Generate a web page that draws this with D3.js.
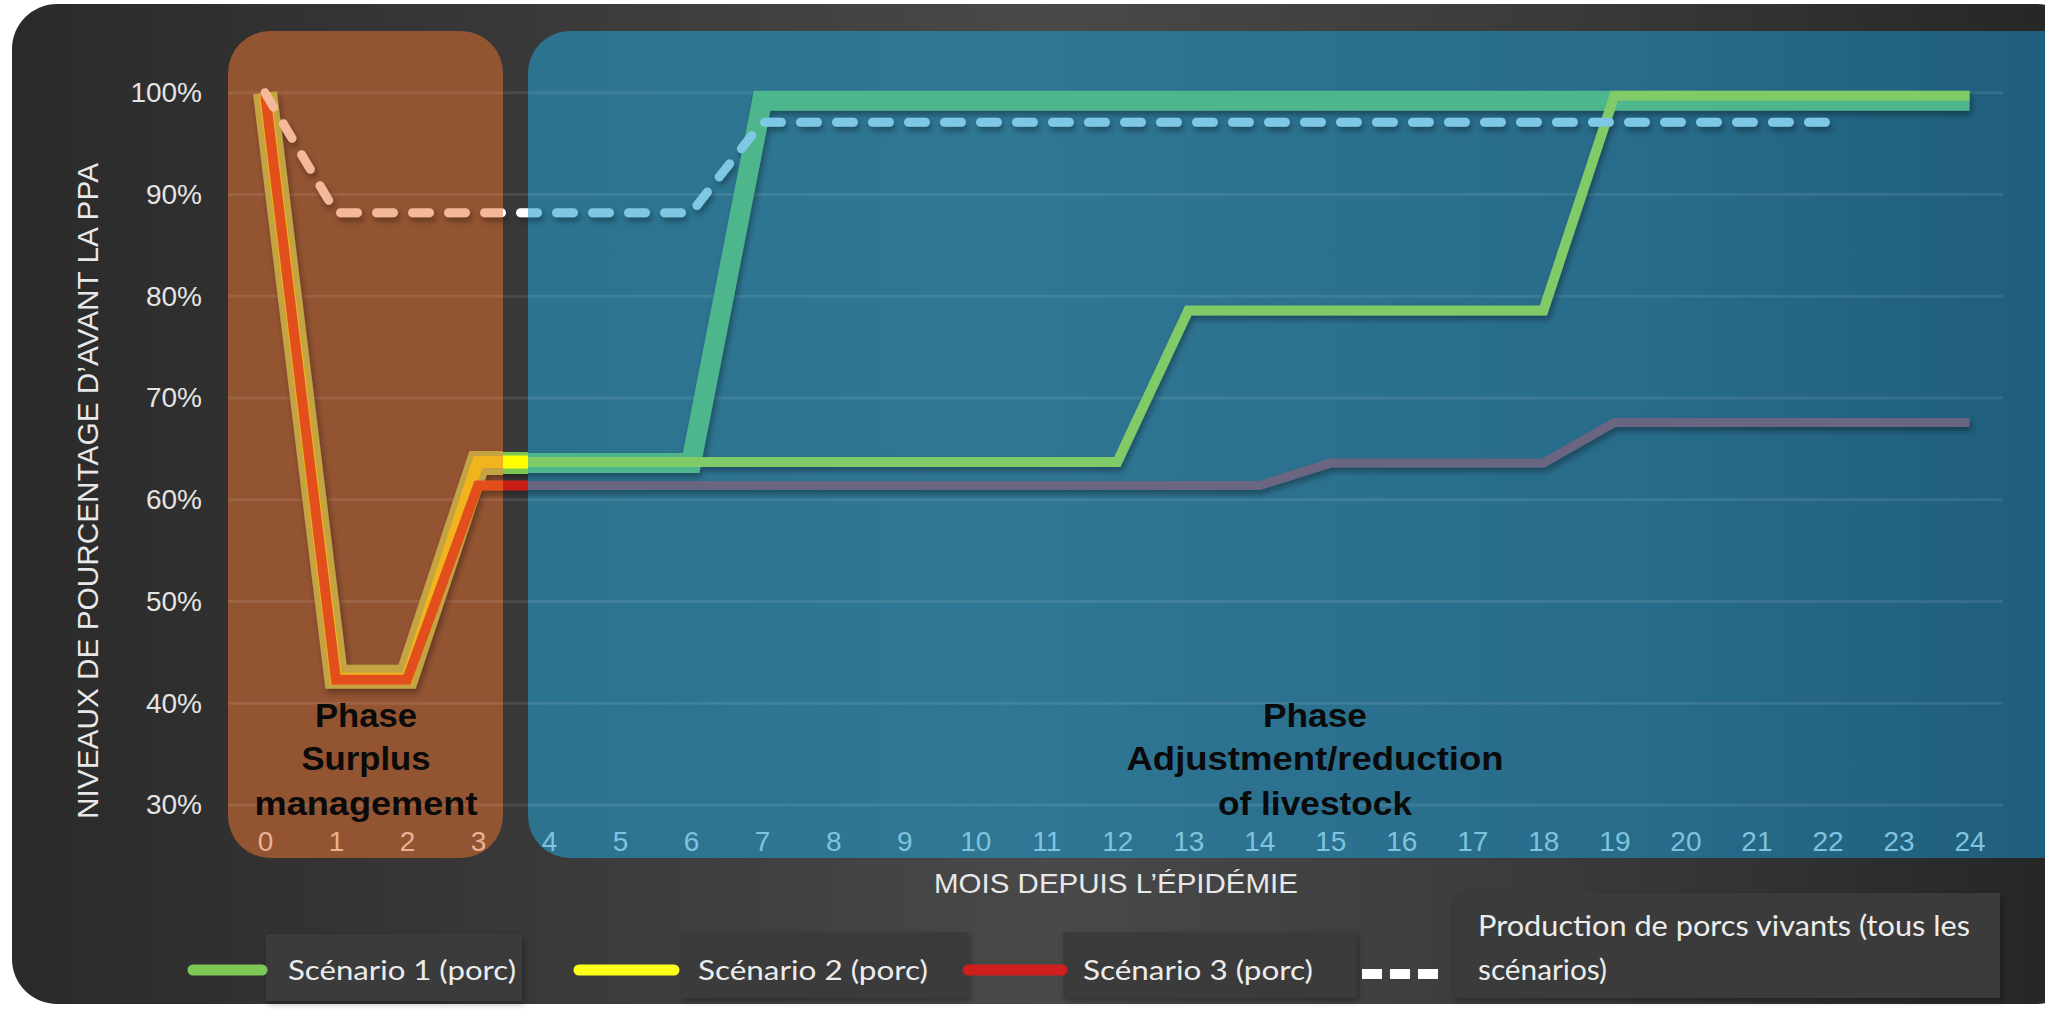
<!DOCTYPE html>
<html>
<head>
<meta charset="utf-8">
<script src="https://cdn.jsdelivr.net/npm/d3@7"></script>
<style>
  html, body { margin: 0; padding: 0; background: #ffffff; }
  svg { display: block; }
</style>
</head>
<body>
<svg id="chart" width="2045" height="1010"></svg>
<script>
// Months since the outbreak
const months = [0, 1, 2, 3, 4, 5, 6, 7, 8, 9, 10, 11, 12, 13, 14, 15, 16, 17, 18, 19, 20, 21, 22, 23, 24];

// Pork supply as % of pre-ASF level, one value per month
const scenario1 = [100, 42.6, 42.6, 63.6, 63.6, 63.6, 63.6, 99.2, 99.2, 99.2, 99.2, 99.2, 99.2,
                   99.2, 99.2, 99.2, 99.2, 99.2, 99.2, 99.2, 99.2, 99.2, 99.2, 99.2, 99.2];
const scenario2 = [100, 42.4, 42.4, 63.7, 63.7, 63.7, 63.7, 63.7, 63.7, 63.7, 63.7, 63.7, 63.7,
                   78.6, 78.6, 78.6, 78.6, 78.6, 78.6, 99.7, 99.7, 99.7, 99.7, 99.7, 99.7];
const scenario3 = [100, 42.3, 42.3, 61.4, 61.4, 61.4, 61.4, 61.4, 61.4, 61.4, 61.4, 61.4, 61.4,
                   61.4, 61.4, 63.6, 63.6, 63.6, 63.6, 67.6, 67.6, 67.6, 67.6, 67.6, 67.6];
// Live hog production (all scenarios), months 0–22
const liveHogs = [100, 88.2, 88.2, 88.2, 88.2, 88.2, 88.2, 97.1, 97.1, 97.1, 97.1, 97.1,
                  97.1, 97.1, 97.1, 97.1, 97.1, 97.1, 97.1, 97.1, 97.1, 97.1, 97.1];

const yTicks = [30, 40, 50, 60, 70, 80, 90, 100];
const seriesNames = ["Scénario 1 (porc)", "Scénario 2 (porc)", "Scénario 3 (porc)"];
const hogLegendLines = ["Production de porcs vivants (tous les", "scénarios)"];
const phaseSurplus = ["Phase", "Surplus", "management"];
const phaseAdjust = ["Phase", "Adjustment/reduction", "of livestock"];
const xTitle = "MOIS DEPUIS L\u2019ÉPIDÉMIE";
const yTitle = "NIVEAUX DE POURCENTAGE D\u2019AVANT LA PPA";

const svg = d3.select("#chart");
const defs = svg.append("defs");

const x = d3.scaleLinear().domain([0, 24]).range([265, 1969.5]);
const y = d3.scaleLinear().domain([30, 100]).range([805, 92.7]);

// ---- gradients & filters ----
const cardGrad = defs.append("linearGradient").attr("id", "cardGrad").attr("x1", 0).attr("x2", 1).attr("y1", 0).attr("y2", 0);
[[0, "#2a2a2a"], [0.25, "#393939"], [0.5, "#494949"], [0.75, "#3a3a3a"], [1, "#252525"]]
  .forEach(([o, c]) => cardGrad.append("stop").attr("offset", o).attr("stop-color", c));

const blueGrad = defs.append("linearGradient").attr("id", "blueGrad").attr("x1", 0).attr("x2", 1).attr("y1", 0).attr("y2", 0);
[[0, "#2c7390"], [0.3, "#2f7794"], [0.7, "#286b8a"], [1, "#1d5b79"]]
  .forEach(([o, c]) => blueGrad.append("stop").attr("offset", o).attr("stop-color", c));

const shadow = defs.append("filter").attr("id", "lineShadow")
  .attr("x", "-5%").attr("y", "-5%").attr("width", "110%").attr("height", "110%");
shadow.append("feDropShadow").attr("dx", 2).attr("dy", 4).attr("stdDeviation", 3)
  .attr("flood-color", "#000").attr("flood-opacity", 0.35);

const boxShadow = defs.append("filter").attr("id", "boxShadow")
  .attr("x", "-10%").attr("y", "-20%").attr("width", "120%").attr("height", "140%");
boxShadow.append("feDropShadow").attr("dx", 2).attr("dy", 3).attr("stdDeviation", 3)
  .attr("flood-color", "#000").attr("flood-opacity", 0.3);

// ---- card ----
svg.append("rect").attr("x", 12).attr("y", 4).attr("width", 2070).attr("height", 1000)
  .attr("rx", 45).attr("fill", "url(#cardGrad)");

// ---- phase panels ----
const orangeX0 = 228, orangeX1 = 503, blueX0 = 528, panelTop = 31, panelBottom = 858;
svg.append("rect").attr("x", orangeX0).attr("y", panelTop)
  .attr("width", orangeX1 - orangeX0).attr("height", panelBottom - panelTop)
  .attr("rx", 42).attr("fill", "#935432");

defs.append("clipPath").attr("id", "cardClip").append("rect")
  .attr("x", 12).attr("y", 4).attr("width", 2070).attr("height", 1000).attr("rx", 45);
svg.append("g").attr("clip-path", "url(#cardClip)")
  .append("rect").attr("x", blueX0).attr("y", panelTop)
  .attr("width", 1600).attr("height", panelBottom - panelTop)
  .attr("rx", 42).attr("fill", "url(#blueGrad)");

// ---- gridlines ----
svg.append("g").selectAll("line").data(yTicks).join("line")
  .attr("x1", orangeX0).attr("x2", 2003)
  .attr("y1", d => y(d)).attr("y2", d => y(d))
  .attr("stroke", "#ffffff").attr("stroke-opacity", 0.09).attr("stroke-width", 3);

// ---- axes ----
const yAxis = svg.append("g").attr("transform", "translate(210,0)")
  .call(d3.axisLeft(y).tickValues(yTicks).tickSize(0).tickPadding(8).tickFormat(d => d + "%"));
yAxis.select(".domain").remove();
yAxis.selectAll("text").attr("fill", "#e4e4e4")
  .style("font-family", "'Liberation Sans', Arial, sans-serif").style("font-size", "28px");

const xAxis = svg.append("g").attr("transform", "translate(0,831)")
  .call(d3.axisBottom(x).tickValues(months).tickSize(0).tickPadding(0).tickFormat(d3.format("d")));
xAxis.select(".domain").remove();
xAxis.selectAll("text").attr("fill", d => d <= 3 ? "#e9b294" : "#7ec3df")
  .style("font-family", "'Liberation Sans', Arial, sans-serif").style("font-size", "28px");

svg.append("text").attr("x", 1116).attr("y", 893).attr("text-anchor", "middle")
  .attr("textLength", 364).attr("lengthAdjust", "spacingAndGlyphs")
  .attr("fill", "#e8e8e8").style("font-family", "'Liberation Sans', Arial, sans-serif")
  .style("font-size", "28px").text(xTitle);

svg.append("text").attr("transform", "translate(98,491) rotate(-90)").attr("text-anchor", "middle")
  .attr("textLength", 656).attr("lengthAdjust", "spacingAndGlyphs")
  .attr("fill", "#e8e8e8").style("font-family", "'Liberation Sans', Arial, sans-serif")
  .style("font-size", "30px").text(yTitle);

// ---- series lines, tinted by the panel they cross ----
const line = d3.line().x((d, i) => x(months[i])).y(d => y(d));

const regions = [
  { id: "clipOrange", x0: 0, x1: orangeX1,
    colors: ["#c4a443", "#f2b41c", "#e2501f", "#f4b89a"], widths: [24, 12, 10] },
  { id: "clipGap", x0: orangeX1, x1: blueX0,
    colors: ["#7dc855", "#ffff00", "#c81e18", "#ffffff"], widths: [22, 13, 10] },
  { id: "clipBlue", x0: blueX0, x1: 2045,
    colors: ["#4db68c", "#80cb68", "#6b6580", "#7ec8e5"], widths: [20, 10, 9] }
];

const series = [scenario1, scenario2, scenario3];

regions.forEach(r => {
  defs.append("clipPath").attr("id", r.id).append("rect")
    .attr("x", r.x0).attr("y", 0).attr("width", r.x1 - r.x0).attr("height", 1010);
  const g = svg.append("g").attr("clip-path", `url(#${r.id})`)
    .append("g").attr("filter", "url(#lineShadow)");
  series.forEach((s, k) => {
    g.append("path").attr("d", line(s)).attr("fill", "none")
      .attr("stroke", r.colors[k]).attr("stroke-width", r.widths[k])
      .attr("stroke-linejoin", "miter").attr("stroke-miterlimit", 3);
  });
  g.append("path").attr("d", line(liveHogs)).attr("fill", "none")
    .attr("stroke", r.colors[3]).attr("stroke-width", 9)
    .attr("stroke-dasharray", "17,19").attr("stroke-linecap", "round");
});

// ---- phase labels ----
const phaseFont = "'Liberation Sans', Arial, sans-serif";
const surplusLengths = [102, 129, 223];
const adjustLengths = [104, 377, 194];
const baselines = [727, 770, 815];
phaseSurplus.forEach((t, i) => {
  svg.append("text").attr("x", 366).attr("y", baselines[i]).attr("text-anchor", "middle")
    .attr("textLength", surplusLengths[i]).attr("lengthAdjust", "spacingAndGlyphs")
    .attr("fill", "#0a0a0a").style("font-family", phaseFont).style("font-weight", "bold")
    .style("font-size", "34px").text(t);
});
phaseAdjust.forEach((t, i) => {
  svg.append("text").attr("x", 1315).attr("y", baselines[i]).attr("text-anchor", "middle")
    .attr("textLength", adjustLengths[i]).attr("lengthAdjust", "spacingAndGlyphs")
    .attr("fill", "#0a0a0a").style("font-family", phaseFont).style("font-weight", "bold")
    .style("font-size", "34px").text(t);
});

// ---- legend ----
const legendFont = "Lato, 'Open Sans', sans-serif";
const legendSwatches = [
  { x0: 193, x1: 262, color: "#7dc855" },
  { x0: 579, x1: 674, color: "#ffff1a" },
  { x0: 968, x1: 1062, color: "#d01e1e" }
];
const legendBoxes = [
  { x: 266, y: 934, w: 256, h: 67, tx: 288, tw: 228 },
  { x: 681, y: 932, w: 287, h: 66, tx: 698, tw: 230 },
  { x: 1063, y: 932, w: 294, h: 66, tx: 1083, tw: 230 }
];
const lg = svg.append("g");
legendBoxes.forEach((b, i) => {
  lg.append("rect").attr("x", b.x).attr("y", b.y).attr("width", b.w).attr("height", b.h)
    .attr("fill", "#3b3b3b").attr("filter", "url(#boxShadow)");
  lg.append("line").attr("x1", legendSwatches[i].x0).attr("x2", legendSwatches[i].x1)
    .attr("y1", 970).attr("y2", 970)
    .attr("stroke", legendSwatches[i].color).attr("stroke-width", 11).attr("stroke-linecap", "round");
  lg.append("text").attr("x", b.tx).attr("y", 980)
    .attr("textLength", b.tw).attr("lengthAdjust", "spacingAndGlyphs")
    .attr("fill", "#ececec").style("font-family", legendFont).style("font-size", "27px")
    .text(seriesNames[i]);
});
lg.append("line").attr("x1", 1362).attr("x2", 1440).attr("y1", 974).attr("y2", 974)
  .attr("stroke", "#ffffff").attr("stroke-width", 10).attr("stroke-dasharray", "20,8");
lg.append("rect").attr("x", 1453).attr("y", 893).attr("width", 547).attr("height", 105)
  .attr("fill", "#3b3b3b").attr("filter", "url(#boxShadow)");
const hogWidths = [492, 129];
hogLegendLines.forEach((t, i) => {
  lg.append("text").attr("x", 1478).attr("y", [936, 980][i])
    .attr("textLength", hogWidths[i]).attr("lengthAdjust", "spacingAndGlyphs")
    .attr("fill", "#ececec").style("font-family", legendFont).style("font-size", "28px")
    .text(t);
});
</script>
</body>
</html>
